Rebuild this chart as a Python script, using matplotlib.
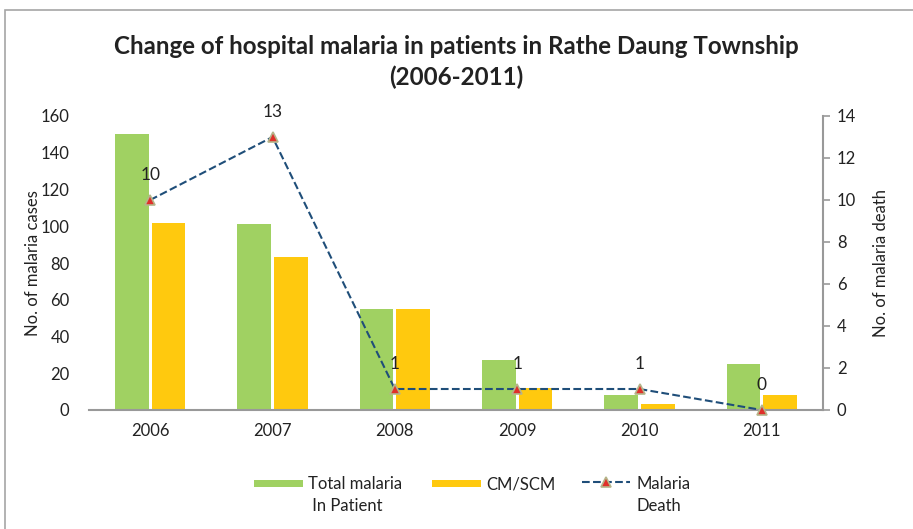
import matplotlib
matplotlib.use("Agg")
import matplotlib.pyplot as plt
import numpy as np
from matplotlib.lines import Line2D
from matplotlib.patches import Rectangle

years = ["2006", "2007", "2008", "2009", "2010", "2011"]
total_inpatient = [150, 101, 55, 27, 8, 25]
cm_scm = [102, 83, 55, 12, 3, 8]
deaths = [10, 13, 1, 1, 1, 0]
legend_labels = ["Total malaria\n In Patient", "CM/SCM", "Malaria\nDeath"]

plt.rcParams['font.family'] = ['Lato', 'DejaVu Sans']

W, H = 913, 529
fig = plt.figure(figsize=(W / 100, H / 100), dpi=100)
fig.patches.append(Rectangle((5/W, -0.1), 1.2, 1 - 10/H + 0.1, transform=fig.transFigure,
                             fill=False, edgecolor='#A6A6A6', linewidth=1.2))

ax = fig.add_axes([89/W, 1 - 410/H, (823 - 89)/W, (410 - 116)/H])
x = np.arange(len(years))
w = 0.275
green = '#A0D162'
yellow = '#FFC90E'
line_col = '#1F4E79'
tc = '#222222'
ax.bar(x - 0.15, total_inpatient, width=w, color=green)
ax.bar(x + 0.15, cm_scm, width=w, color=yellow)
ax.set_xlim(-0.5, 5.5)
ax.set_ylim(0, 160)
ax.set_yticks(range(0, 161, 20))
ax.set_xticks(x)
ax.set_xticklabels(years)
ax.tick_params(axis='both', length=0, labelsize=12, colors=tc, pad=9)
ax.tick_params(axis='y', pad=14)
for s in ['top', 'right', 'left']:
    ax.spines[s].set_visible(False)
ax.spines['bottom'].set_color('#999999')
ax.spines['bottom'].set_linewidth(1.5)
ax.set_ylabel('No. of malaria cases', fontsize=12, color=tc, labelpad=0)

ax2 = ax.twinx()
mk = dict(marker='^', markersize=7, markerfacecolor='#E0302A', markeredgecolor='#B5B58A',
          markeredgewidth=1.2)
ax2.plot(x, deaths, linestyle='--', color=line_col, linewidth=1.5, clip_on=False, zorder=5, **mk)
ax2.set_ylim(0, 14)
ax2.set_yticks(range(0, 15, 2))
for s in ['top', 'left', 'bottom']:
    ax2.spines[s].set_visible(False)
ax2.spines['right'].set_color('#999999')
ax2.spines['right'].set_linewidth(1.5)
ax2.tick_params(axis='y', length=5, color='#999999', labelsize=12, labelcolor=tc, width=1.2, pad=5)
ax2.set_ylabel('No. of malaria death', fontsize=12, color=tc, labelpad=12)
for xi, d in zip(x, deaths):
    ax2.annotate(str(d), (xi, d), xytext=(0, 12), textcoords='offset points',
                 ha='center', va='bottom', fontsize=12.5, color=tc)

fig.text(0.5, 1 - 47/H, 'Change of hospital malaria in patients in Rathe Daung Township',
         ha='center', va='center', fontsize=17.4, fontweight='bold', color=tc)
fig.text(0.5, 1 - 77/H, '(2006-2011)', ha='center', va='center', fontsize=17.4,
         fontweight='bold', color=tc)

# legend drawn manually (handles aligned with first text line)
fig.patches.append(Rectangle((254/W, 1 - 487/H), 49/W, 7/H, transform=fig.transFigure,
                             facecolor=green, edgecolor='none'))
fig.patches.append(Rectangle((432/W, 1 - 487/H), 49/W, 7/H, transform=fig.transFigure,
                             facecolor=yellow, edgecolor='none'))
fig.add_artist(Line2D([582/W, 630/W], [1 - 482/H, 1 - 482/H], transform=fig.transFigure,
                      linestyle='--', color=line_col, linewidth=1.5))
fig.add_artist(Line2D([606/W], [1 - 482/H], transform=fig.transFigure, linestyle='none', **mk))
for tx, lab in zip([308, 486, 636], legend_labels):
    fig.text(tx/W, 1 - 476/H, lab, ha='left', va='top', fontsize=12, color=tc, linespacing=1.45)

fig.savefig('out.png', dpi=100)
